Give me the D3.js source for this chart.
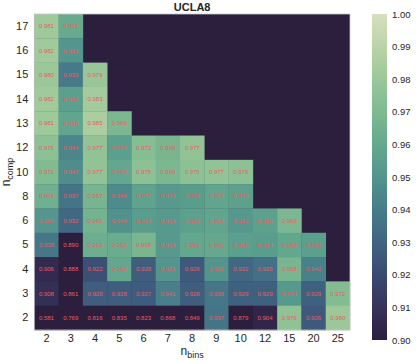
<!DOCTYPE html>
<html>
<head>
<meta charset="utf-8">
<script src="https://cdn.jsdelivr.net/npm/d3@7"></script>
<style>
body { margin: 0; background: #fff; }
text { font-family: "Liberation Sans", Arial, sans-serif; }
</style>
</head>
<body>
<div class="chart"></div>
<script>
var nBins = [2, 3, 4, 5, 6, 7, 8, 9, 10, 12, 15, 20, 25];
var nComp = [17, 16, 15, 14, 13, 12, 10, 8, 6, 5, 4, 3, 2];

// one row per n_comp (same order as nComp), null = no value
var row17 = [0.981, 0.961, null, null, null, null, null, null, null, null, null, null, null];
var row16 = [0.982, 0.951, null, null, null, null, null, null, null, null, null, null, null];
var row15 = [0.980, 0.939, 0.979, null, null, null, null, null, null, null, null, null, null];
var row14 = [0.982, 0.955, 0.983, null, null, null, null, null, null, null, null, null, null];
var row13 = [0.981, 0.958, 0.985, 0.969, null, null, null, null, null, null, null, null, null];
var row12 = [0.975, 0.944, 0.977, 0.955, 0.973, 0.968, 0.977, null, null, null, null, null, null];
var row10 = [0.971, 0.947, 0.977, 0.959, 0.975, 0.969, 0.975, 0.977, 0.975, null, null, null, null];
var row8  = [0.964, 0.937, 0.967, 0.946, 0.957, 0.953, 0.954, 0.958, 0.956, null, null, null, null];
var row6  = [0.951, 0.932, 0.966, 0.949, 0.954, 0.953, 0.956, 0.958, 0.952, 0.956, 0.969, null, null];
var row5  = [0.938, 0.890, 0.963, 0.962, 0.968, 0.953, 0.959, 0.960, 0.955, 0.954, 0.959, 0.955, null];
var row4  = [0.906, 0.888, 0.922, 0.959, 0.928, 0.951, 0.926, 0.950, 0.932, 0.935, 0.968, 0.942, null];
var row3  = [0.908, 0.861, 0.928, 0.928, 0.927, 0.941, 0.928, 0.938, 0.929, 0.929, 0.953, 0.929, 0.972];
var row2  = [0.581, 0.769, 0.816, 0.835, 0.823, 0.868, 0.849, 0.937, 0.879, 0.904, 0.976, 0.926, 0.980];
var rows = [row17, row16, row15, row14, row13, row12, row10, row8, row6, row5, row4, row3, row2];

var cbTicks = [0.90, 0.91, 0.92, 0.93, 0.94, 0.95, 0.96, 0.97, 0.98, 0.99, 1.00];
var vmin = 0.90, vmax = 1.00;

// seaborn cubehelix_palette(start=.5, rot=-.75), light=.85 dark=.15
function cubehelix(t) {
    var s = 0.5, r = -0.75, h = 0.8;
    var a = h * t * (1 - t) / 2;
    var phi = 2 * Math.PI * (s / 3 + r * t);
    var c = Math.cos(phi), sn = Math.sin(phi);
    function cl(v) { return Math.max(0, Math.min(1, v)); }
    var R = cl(t + a * (-0.14861 * c + 1.78277 * sn));
    var G = cl(t + a * (-0.29227 * c - 0.90649 * sn));
    var B = cl(t + a * (1.97294 * c));
    return d3.rgb(R * 255, G * 255, B * 255).toString();
}
var color = function(v) {
    var t = Math.max(0, Math.min(1, (v - vmin) / (vmax - vmin)));
    return cubehelix(0.15 + 0.70 * t);
};

var W = 416, H = 363;
var svg = d3.select(".chart").append("svg")
    .attr("width", W)
    .attr("height", H);

var pl = 34.3, pt = 14, pr = 350, pb = 330;

var xs = d3.scaleBand().domain(nBins).range([pl, pr]);
var ys = d3.scaleBand().domain(nComp).range([pt, pb]);

svg.append("rect")
    .attr("x", pl).attr("y", pt)
    .attr("width", pr - pl).attr("height", pb - pt)
    .attr("fill", color(vmin));

var cells = [];
rows.forEach(function(r, i) {
    r.forEach(function(v, j) {
        if (v !== null) cells.push({ c: nComp[i], b: nBins[j], v: v });
    });
});

svg.selectAll("rect.cell")
    .data(cells)
    .enter().append("rect")
    .attr("class", "cell")
    .attr("x", function(d) { return xs(d.b); })
    .attr("y", function(d) { return ys(d.c); })
    .attr("width", xs.bandwidth() + 0.3)
    .attr("height", ys.bandwidth() + 0.3)
    .attr("fill", function(d) { return color(d.v); });

svg.selectAll("text.annot")
    .data(cells)
    .enter().append("text")
    .attr("class", "annot")
    .attr("x", function(d) { return xs(d.b) + xs.bandwidth() / 2; })
    .attr("y", function(d) { return ys(d.c) + ys.bandwidth() / 2; })
    .attr("dy", "0.35em")
    .attr("text-anchor", "middle")
    .style("font-size", "6px")
    .attr("fill", "#ec5a62")
    .text(function(d) { return d3.format(".3f")(d.v); });

svg.append("rect")
    .attr("x", pl).attr("y", pt)
    .attr("width", pr - pl).attr("height", pb - pt)
    .attr("fill", "none")
    .attr("stroke", "#c8c8c8")
    .attr("stroke-width", 0.8);

var xAxis = d3.axisBottom(xs).tickSize(0).tickPadding(4);
var gx = svg.append("g")
    .attr("transform", "translate(0," + pb + ")")
    .call(xAxis);
gx.select(".domain").remove();
gx.selectAll("text").style("font-size", "11px").attr("fill", "#262626");

var yAxis = d3.axisLeft(ys).tickSize(0).tickPadding(6);
var gy = svg.append("g")
    .attr("transform", "translate(" + pl + ",0)")
    .call(yAxis);
gy.select(".domain").remove();
gy.selectAll("text").style("font-size", "11px").attr("fill", "#262626");

// axis labels
var xl = svg.append("text")
    .attr("x", (pl + pr) / 2)
    .attr("y", 355)
    .attr("text-anchor", "middle")
    .style("font-size", "12px")
    .attr("fill", "#262626");
xl.append("tspan").text("n");
xl.append("tspan").attr("dy", 3).style("font-size", "9px").text("bins");

var yl = svg.append("text")
    .attr("transform", "translate(10," + ((pt + pb) / 2) + ") rotate(-90)")
    .attr("text-anchor", "middle")
    .style("font-size", "12px")
    .attr("fill", "#262626");
yl.append("tspan").text("n");
yl.append("tspan").attr("dy", 2.5).style("font-size", "9px").text("comp");

svg.append("text")
    .attr("x", (pl + pr) / 2)
    .attr("y", 11)
    .attr("text-anchor", "middle")
    .style("font-size", "11px")
    .style("font-weight", "bold")
    .attr("fill", "#262626")
    .text("UCLA8");

// colorbar
var cbX = 372, cbW = 15, cbTop = 14, cbBot = 340;
var cbScale = d3.scaleLinear().domain([vmin, vmax]).range([cbBot, cbTop]);
var defs = svg.append("defs");
var grad = defs.append("linearGradient")
    .attr("id", "cbgrad")
    .attr("x1", 0).attr("y1", 1).attr("x2", 0).attr("y2", 0);
d3.range(0, 1.0001, 0.05).forEach(function(t) {
    grad.append("stop")
        .attr("offset", t)
        .attr("stop-color", color(vmin + t * (vmax - vmin)));
});
svg.append("rect")
    .attr("x", cbX).attr("y", cbTop)
    .attr("width", cbW).attr("height", cbBot - cbTop)
    .attr("fill", "url(#cbgrad)");

var cbAxis = d3.axisRight(cbScale).tickValues(cbTicks).tickSize(0).tickPadding(5)
    .tickFormat(d3.format(".2f"));
var gc = svg.append("g")
    .attr("transform", "translate(" + (cbX + cbW) + ",0)")
    .call(cbAxis);
gc.select(".domain").remove();
gc.selectAll("text").style("font-size", "9.5px").attr("fill", "#262626");
</script>
</body>
</html>
